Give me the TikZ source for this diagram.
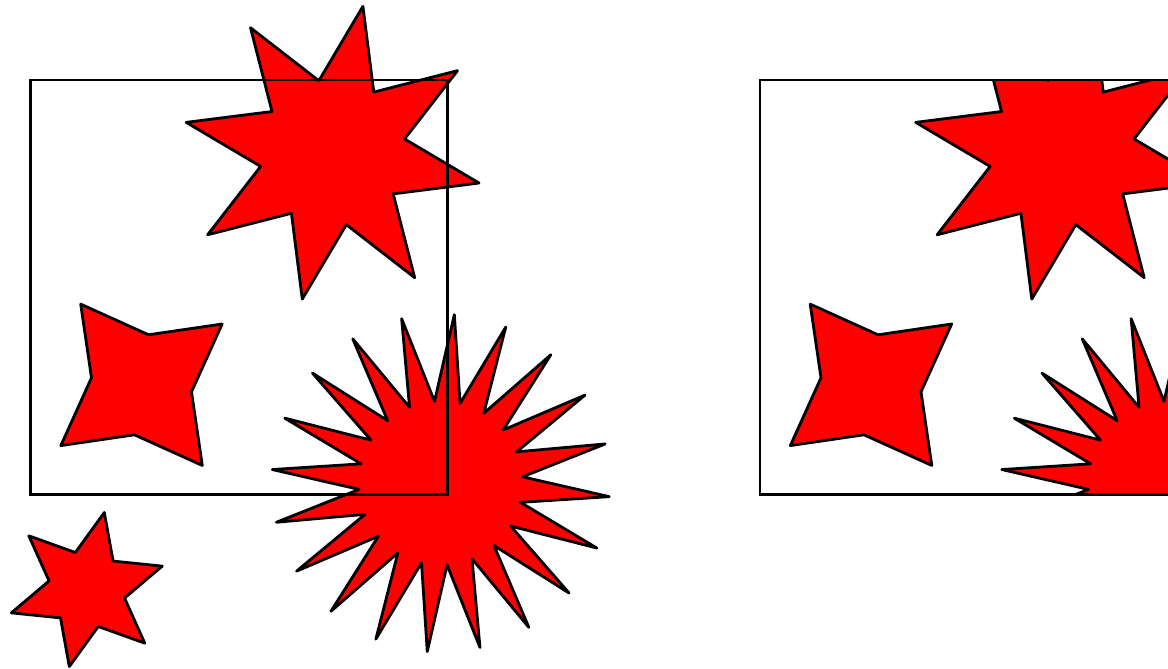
\documentclass[tikz,border=0pt]{standalone}
\tikzset{
  starsty/.style={draw=black,fill=red,line width=2.8pt,line join=round},
  framesty/.style={draw=black,line width=2.2pt},
}
% #1 cx, #2 cy, #3 points, #4 outer radius, #5 inner ratio, #6 angle of first tip (math, ccw)
\newcommand\drawstar[6]{%
  \pgfmathtruncatemacro\lastk{2*#3-1}%
  \draw[starsty,shift={(#1,#2)}] (-#6:#4)
    \foreach \k in {1,...,\lastk} { -- ({-#6-\k*180/#3}:{#4*(1-(1-#5)*mod(\k,2))}) } -- cycle;
}
\newcommand\allstars[1]{%
  \drawstar{141.5+#1}{384.8}{4}{101}{0.5}{37}
  \drawstar{332.6+#1}{152.7}{8}{149.5}{0.49}{33.3}
  \drawstar{86.8+#1}{589.5}{6}{79}{0.49}{17.2}
  \drawstar{440.8+#1}{483.1}{20}{169}{0.485}{-4.6}
}
\begin{document}
\begin{tikzpicture}[x=1pt,y=-1pt]
\useasboundingbox (0,0) rectangle (1168,669);
% left: full drawing
\allstars{0}
\draw[framesty] (30.5,80) rectangle (447.5,494.5);
% right: clipped copy
\begin{scope}
  \clip (760,80) rectangle (1177,494.5);
  \allstars{729.5}
\end{scope}
\draw[framesty] (760,80) rectangle (1177,494.5);
\end{tikzpicture}
\end{document}
